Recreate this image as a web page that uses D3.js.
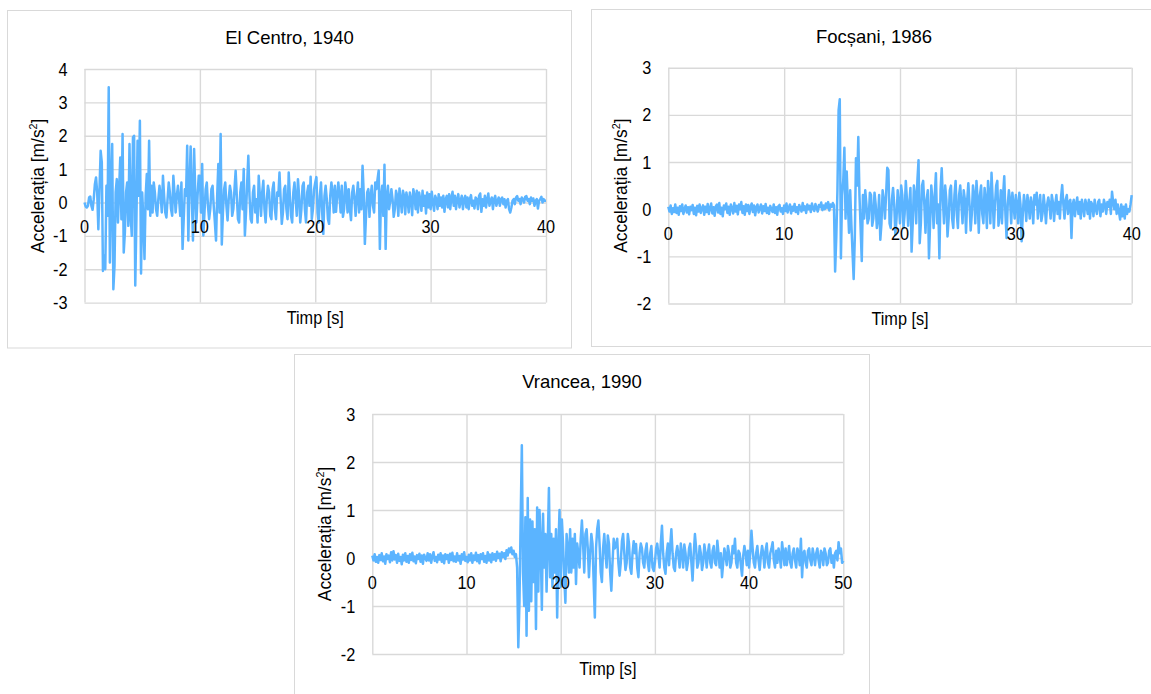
<!DOCTYPE html>
<html><head><meta charset="utf-8">
<script src="https://cdn.jsdelivr.net/npm/d3@7"></script>
<style>
body{margin:0;background:#fff;}
svg{display:block;}
text{font-family:"Liberation Sans",Arial,sans-serif;fill:#000;}
</style>
</head><body>
<svg id="chart" width="1151" height="694"></svg>
<script>
// ---------------- DATA ----------------
const chartTitles = ["El Centro, 1940", "Focșani, 1986", "Vrancea, 1990"];
const xAxisTitle = "Timp [s]";
const yAxisTitle = "Accelerația [m/s";

const xTicksElCentro = [0, 10, 20, 30, 40];
const yTicksElCentro = [-3, -2, -1, 0, 1, 2, 3, 4];
const xTicksFocsani = [0, 10, 20, 30, 40];
const yTicksFocsani = [-2, -1, 0, 1, 2, 3];
const xTicksVrancea = [0, 10, 20, 30, 40, 50];
const yTicksVrancea = [-2, -1, 0, 1, 2, 3];

// sample interval (s)
const dtElCentro = 0.1;
const dtFocsani = 0.1;
const dtVrancea = 0.125;

// acceleration [m/s2], one row per second
const accelElCentro = [
 0.0,-0.12,-0.15,-0.1,0.15,0.18,-0.1,-0.22,0.1,0.55,
 0.75,0.3,-0.8,0.4,1.55,1.2,-2.05,-1.6,-2.0,0.5,
 -0.4,3.45,-1.8,0.5,1.75,-2.6,-1.9,0.3,0.7,-0.6,
 0.4,1.35,-0.5,2.05,-1.5,-0.9,0.3,0.6,-0.7,1.75,
 -0.4,-1.0,1.95,2.0,-2.49,-0.5,1.85,0.2,2.45,-2.13,
 0.3,-0.5,-1.69,0.2,0.85,-0.2,1.85,-0.4,0.5,-0.3,
 0.6,0.3,-0.2,-0.4,0.1,0.5,0.2,-0.3,0.8,0.2,
 -0.3,-0.45,0.1,0.6,0.3,-0.2,-0.4,0.8,0.3,-0.3,
 0.2,0.5,0.1,-0.4,0.6,-1.39,-0.5,0.4,0.2,1.7,
 -1.14,0.5,1.68,0.2,-1.14,1.6,0.3,-0.6,0.2,0.8,
 0.8,-0.3,1.15,-0.99,-0.3,0.4,0.6,-0.1,-0.5,-0.2,
 0.4,0.5,-0.1,-0.6,-1.14,0.2,1.15,-0.3,2.05,-1.26,
 -0.3,0.4,0.6,-0.1,-0.54,0.1,0.5,0.3,-0.4,-0.2,
 0.4,0.95,0.2,-0.5,-0.6,0.3,0.6,-0.2,1.0,-0.99,
 -0.3,0.6,1.4,0.2,-0.5,-0.6,0.3,0.5,-0.3,0.1,
 -0.6,0.8,0.2,-0.4,0.3,0.65,-0.2,-0.6,0.1,0.5,
 0.3,-0.4,-0.5,0.4,0.6,-0.2,-0.5,0.3,0.2,0.9,
 0.1,-0.64,-0.3,0.4,0.5,-0.2,-0.5,0.9,0.2,-0.4,
 -0.6,0.3,0.6,0.1,-0.4,0.7,0.2,-0.6,-0.2,0.5,
 0.6,-0.2,-0.6,0.3,0.5,-0.1,0.77,-0.5,-0.2,0.4,
 0.6,0.76,-0.3,-0.6,0.2,0.6,-0.3,-0.94,0.2,0.5,
 0.1,-0.5,-0.64,0.2,0.6,0.3,-0.3,0.5,-0.28,0.2,
 0.6,0.2,-0.3,0.5,-0.43,-0.2,0.6,0.3,-0.3,0.4,
 -0.2,-0.53,0.3,0.5,0.1,-0.4,0.2,0.6,-0.3,0.4,
 -0.2,1.1,0.3,-1.24,-0.4,0.3,0.4,-0.43,0.2,0.5,
 -0.1,-0.3,0.6,0.4,0.7,0.96,-1.39,0.2,0.5,-0.4,
 1.13,-1.39,0.2,0.5,-0.2,0.05,0.4,0.1,-0.43,-0.2,
 0.35,0.2,-0.4,0.42,0.1,-0.3,0.35,0.2,-0.35,0.3,
 0.1,-0.3,0.3,0.1,-0.38,0.4,0.2,-0.2,0.35,-0.3,
 0.3,0.1,-0.25,0.35,-0.1,0.2,-0.33,0.3,-0.15,0.25,
 -0.2,0.32,0.0,-0.25,0.2,0.1,-0.2,0.25,-0.1,0.15,
 -0.15,0.2,-0.28,0.1,0.2,-0.15,0.25,-0.2,0.15,0.32,
 -0.1,0.2,-0.2,0.1,0.25,-0.15,0.05,0.2,-0.2,0.1,
 0.2,-0.15,0.15,-0.2,0.1,0.22,-0.1,0.05,-0.18,0.15,
 0.1,-0.2,0.2,0.27,-0.28,0.1,-0.1,0.2,-0.15,0.1,
 0.27,-0.1,0.05,0.15,-0.2,0.1,0.2,-0.1,0.05,0.15,
 -0.1,0.1,0.15,-0.05,0.1,-0.15,0.05,0.1,-0.2,-0.3,
 -0.15,0.05,0.1,-0.05,0.15,0.19,0.05,0.1,-0.05,0.15,
 0.1,0.0,0.17,0.19,0.05,0.1,-0.05,0.15,0.05,0.12,
 -0.1,0.05,0.1,-0.18,0.05,0.1,0.17,0.0,0.1,0.05,
 0.05
];

const accelFocsani = [
 0.05,-0.05,0.08,-0.1,0.02,-0.06,0.1,-0.08,0.03,-0.12,
 0.06,-0.04,0.1,-0.1,0.0,0.08,-0.07,0.04,-0.11,0.05,
 -0.02,0.09,-0.1,0.03,-0.13,0.07,-0.05,0.1,-0.08,0.02,
 0.08,-0.12,0.05,-0.06,0.11,-0.1,0.02,0.12,-0.09,0.04,
 -0.14,0.06,0.1,-0.07,0.13,-0.1,0.03,-0.15,0.08,0.0,
 0.12,-0.08,0.05,-0.12,0.1,0.02,-0.09,0.13,-0.05,0.07,
 -0.11,0.1,0.0,0.15,-0.08,0.06,-0.12,0.1,-0.04,0.09,
 -0.1,0.05,0.12,-0.06,0.08,-0.13,0.04,0.1,-0.07,0.02,
 0.1,-0.09,0.06,-0.04,0.11,-0.08,0.03,-0.1,0.07,0.0,
 -0.06,0.1,-0.08,0.04,-0.12,0.06,0.09,-0.05,0.02,-0.1,
 0.08,-0.04,0.12,-0.07,0.03,0.1,-0.09,0.05,-0.03,0.11,
 -0.06,0.04,-0.1,0.09,0.02,-0.05,0.13,-0.02,0.06,-0.08,
 0.1,0.0,0.07,-0.06,0.12,0.02,-0.04,0.11,0.03,-0.05,
 0.09,0.04,0.14,-0.02,0.08,0.0,0.12,0.03,0.15,-0.03,
 0.1,0.05,0.13,0.08,-1.32,-0.6,0.4,2.1,2.33,-1.04,
 0.3,0.6,1.3,-0.2,0.8,0.1,-0.5,0.4,-0.3,-0.9,
 -1.48,-0.6,1.08,0.5,1.53,0.3,-0.4,-1.1,0.3,-0.2,
 0.4,0.1,-0.3,-0.2,0.35,0.3,-0.35,-0.2,0.35,0.1,
 -0.4,-0.2,0.3,-0.65,-0.3,0.4,0.2,-0.2,0.3,0.88,
 0.83,-0.3,-0.4,0.2,0.45,0.1,-0.55,-0.2,0.4,0.1,
 -0.3,0.5,0.3,-0.4,-0.1,0.6,0.2,-0.35,0.1,0.45,
 -0.9,-0.3,0.5,0.3,-0.3,0.6,1.04,-0.72,-0.3,0.5,
 0.6,0.1,-0.5,0.2,0.4,-1.04,-0.3,0.5,0.2,-0.4,
 0.3,0.76,-0.3,0.1,-1.04,0.4,0.87,0.2,-0.3,0.5,
 0.2,-0.58,-0.2,0.4,0.5,-0.2,-0.4,0.3,0.6,-0.1,
 -0.4,0.3,0.5,0.1,-0.3,0.4,0.2,-0.5,0.2,0.55,
 0.1,-0.45,-0.1,0.5,0.3,-0.3,0.6,0.2,-0.5,0.3,
 0.5,-0.1,-0.3,0.45,0.2,-0.4,0.6,0.3,-0.3,0.77,
 0.2,-0.4,0.1,0.5,0.6,-0.35,-0.1,0.4,-0.3,0.3,
 0.7,-0.1,-0.61,0.1,0.4,0.2,-0.3,0.35,0.1,-0.2,
 0.3,0.1,-0.3,0.35,0.1,-0.68,-0.1,0.3,0.1,-0.25,
 0.3,0.1,-0.2,0.25,0.1,-0.3,0.3,0.1,0.35,-0.2,
 0.1,0.3,-0.25,-0.1,0.3,0.05,-0.3,0.1,0.25,0.1,
 -0.2,0.3,0.15,-0.25,0.1,0.3,-0.1,0.15,-0.2,0.25,
 0.51,0.1,-0.2,0.2,0.3,-0.1,0.15,0.2,-0.61,0.1,
 0.2,-0.15,0.1,0.25,-0.1,0.15,-0.2,0.2,0.05,-0.15,
 0.2,0.1,-0.1,0.2,-0.2,0.15,0.1,-0.15,0.2,0.0,
 -0.1,0.15,0.2,-0.15,0.1,-0.05,0.2,0.1,-0.1,0.15,
 0.05,0.2,-0.1,0.37,0.15,0.0,0.2,-0.1,0.1,-0.05,
 -0.22,0.1,-0.15,0.05,-0.2,0.1,-0.1,0.0,-0.05,0.1,
 0.3
];

const accelVrancea = [
 0.05,-0.05,0.08,-0.08,0.02,-0.1,0.06,-0.04,
 0.1,-0.07,0.03,-0.12,0.08,-0.02,0.05,-0.09,
 0.12,-0.05,0.14,-0.03,0.06,-0.1,0.09,-0.06,
 0.02,-0.13,0.07,-0.05,0.1,-0.08,0.04,-0.1,
 0.08,-0.04,0.11,-0.07,0.03,-0.11,0.06,-0.02,
 0.09,-0.08,0.05,-0.12,0.07,0.0,-0.06,0.1,
 -0.05,0.08,-0.1,0.04,0.12,-0.06,0.02,-0.09,
 0.07,-0.03,0.1,-0.08,0.05,-0.11,0.08,-0.02,
 0.06,-0.1,0.09,-0.04,0.11,-0.07,0.03,-0.08,
 0.1,-0.05,0.04,-0.12,0.08,-0.03,0.12,-0.06,
 0.02,-0.09,0.07,-0.05,0.1,-0.1,0.05,-0.04,
 0.11,-0.07,0.06,-0.11,0.08,-0.02,0.1,-0.08,
 0.04,-0.1,0.12,-0.05,0.07,-0.09,0.1,-0.03,
 0.08,-0.06,0.13,0.0,0.09,-0.07,0.12,0.02,
 0.1,-0.02,0.16,0.05,0.2,0.12,0.22,0.08,
 0.15,0.02,0.08,-0.2,-1.86,-0.9,0.8,2.35,
 -0.3,-1.0,0.85,-1.62,1.25,-1.1,0.8,-0.9,
 0.76,-0.5,0.6,-1.48,1.05,-0.7,1.0,0.3,
 -1.08,0.92,-0.2,0.5,-0.7,0.3,1.46,-0.4,
 0.5,-0.6,0.4,-0.3,0.6,-1.24,0.2,1.0,
 -0.6,0.8,0.3,-0.4,-0.93,0.5,0.2,-0.3,
 0.6,-0.3,0.4,-0.2,0.5,-0.54,0.3,0.1,
 -0.2,0.4,0.78,0.3,-0.3,0.5,0.6,0.2,
 -0.4,0.1,0.5,0.3,-0.5,-1.24,0.2,0.6,
 0.78,0.3,-0.3,-0.5,0.2,0.5,0.1,-0.2,
 0.47,0.3,-0.3,-0.68,-0.1,0.4,0.2,0.26,
 0.4,-0.1,-0.37,-0.1,0.35,0.5,0.1,-0.25,
 -0.1,0.5,0.3,-0.2,-0.33,0.1,0.35,0.1,
 0.29,-0.2,-0.4,0.1,0.3,0.2,-0.1,-0.2,
 0.15,0.3,-0.1,-0.27,0.1,0.25,-0.2,-0.27,
 -0.1,0.2,0.3,0.05,-0.2,0.3,0.67,0.1,
 -0.2,-0.33,0.1,0.3,-0.15,0.25,0.6,0.1,
 -0.2,-0.27,0.1,0.25,0.05,-0.2,0.3,0.1,
 -0.2,0.28,0.1,-0.25,-0.1,0.2,0.3,-0.1,
 -0.47,0.1,0.5,0.2,-0.2,-0.1,0.25,0.1,
 -0.25,-0.1,0.28,0.1,-0.2,0.1,0.28,-0.1,
 -0.2,0.15,0.25,-0.1,-0.15,0.36,0.1,-0.2,
 0.1,-0.4,-0.1,0.2,0.05,-0.15,0.25,0.1,
 -0.2,-0.1,0.25,0.1,0.4,-0.1,-0.2,0.15,
 0.1,-0.15,-0.37,0.05,0.25,0.1,-0.15,0.15,
 -0.2,0.1,0.57,0.2,-0.1,-0.2,0.1,0.25,
 -0.05,-0.25,0.05,0.25,0.1,-0.2,0.15,0.3,
 -0.1,-0.2,0.1,0.2,0.33,-0.05,-0.2,0.15,
 -0.1,0.2,0.05,-0.2,0.33,0.1,-0.15,0.2,
 -0.15,0.05,0.25,-0.1,-0.2,0.1,0.2,-0.05,
 -0.2,0.2,0.1,-0.15,0.4,-0.4,0.1,0.15,
 -0.1,-0.2,0.15,0.2,-0.05,-0.15,0.2,0.05,
 -0.15,0.1,0.2,-0.05,-0.2,0.15,0.1,-0.15,
 0.2,0.1,-0.15,-0.1,0.15,0.2,-0.1,0.05,
 -0.2,0.1,0.15,-0.05,0.33,0.1,0.2,-0.1,
 -0.06
];

// ---------------- LAYOUT ----------------
const panels = [
  {title: chartTitles[0], dt: dtElCentro, values: accelElCentro, xDomain: [0, 40], yDomain: [-3, 4],
   xTicks: xTicksElCentro, yTicks: yTicksElCentro,
   box: {x: 7.5, y: 10.5, w: 564, h: 337.5}, titleX: 289.5,
   plot: {x0: 84.5, x1: 546, yTop: 69, yBot: 302.6}},
  {title: chartTitles[1], dt: dtFocsani, values: accelFocsani, xDomain: [0, 40], yDomain: [-2, 3],
   xTicks: xTicksFocsani, yTicks: yTicksFocsani,
   box: {x: 591.5, y: 9.5, w: 570, h: 337}, titleX: 874,
   plot: {x0: 668.3, x1: 1131.7, yTop: 67.7, yBot: 303.5}},
  {title: chartTitles[2], dt: dtVrancea, values: accelVrancea, xDomain: [0, 50], yDomain: [-2, 3],
   xTicks: xTicksVrancea, yTicks: yTicksVrancea,
   box: {x: 294.5, y: 354.5, w: 575, h: 360}, titleX: 582,
   plot: {x0: 372.3, x1: 843.3, yTop: 414, yBot: 654}}
];

const LINE_COLOR = "#5bb4ff";
const GRID_COLOR = "#d9d9d9";
const FS = 18.5;
const SX = 0.88;
const SX_YLABEL = 0.94;

const svg = d3.select("#chart");
svg.append("rect").attr("width", 1151).attr("height", 694).attr("fill", "#fff");

panels.forEach(p => {
  const g = svg.append("g");
  g.append("rect")
    .attr("x", p.box.x).attr("y", p.box.y).attr("width", p.box.w).attr("height", p.box.h)
    .attr("fill", "#fff").attr("stroke", GRID_COLOR).attr("stroke-width", 1);

  const x = d3.scaleLinear().domain(p.xDomain).range([p.plot.x0, p.plot.x1]);
  const y = d3.scaleLinear().domain(p.yDomain).range([p.plot.yBot, p.plot.yTop]);

  // horizontal gridlines
  const gy = g.append("g").attr("transform", `translate(${p.plot.x0},0)`)
    .call(d3.axisLeft(y).tickValues(p.yTicks).tickSize(-(p.plot.x1 - p.plot.x0)).tickFormat(""));
  gy.select(".domain").remove();
  gy.selectAll("line").attr("stroke", GRID_COLOR).attr("stroke-width", 1.4);

  // vertical gridlines
  const gx = g.append("g").attr("transform", `translate(0,${p.plot.yBot})`)
    .call(d3.axisBottom(x).tickValues(p.xTicks).tickSize(-(p.plot.yBot - p.plot.yTop)).tickFormat(""));
  gx.select(".domain").remove();
  gx.selectAll("line").attr("stroke", GRID_COLOR).attr("stroke-width", 1.4);

  // series
  const line = d3.line().x((d, i) => x(i * p.dt)).y(d => y(d));
  g.append("path").datum(p.values)
    .attr("d", line).attr("fill", "none")
    .attr("stroke", LINE_COLOR).attr("stroke-width", 2.5)
    .attr("stroke-linejoin", "round");

  // y tick labels
  g.selectAll(".ytl").data(p.yTicks).join("text")
    .attr("transform", d => `translate(${p.plot.x0 - 17},${y(d) + 6.6}) scale(${SX},1)`)
    .attr("text-anchor", "end").attr("font-size", FS).text(d => d);

  // x tick labels (under the zero line)
  g.selectAll(".xtl").data(p.xTicks).join("text")
    .attr("transform", d => `translate(${x(d)},${y(0) + 30.5}) scale(${SX},1)`)
    .attr("text-anchor", "middle").attr("font-size", FS).text(d => d);

  // title
  g.append("text")
    .attr("x", p.titleX).attr("y", p.box.y + 33)
    .attr("text-anchor", "middle").attr("font-size", FS).text(p.title);

  // x axis title
  g.append("text")
    .attr("transform", `translate(${(p.plot.x0 + p.plot.x1) / 2},${p.plot.yBot + 21}) scale(${SX},1)`)
    .attr("text-anchor", "middle").attr("font-size", FS).text(xAxisTitle);

  // y axis title
  const yt = g.append("text")
    .attr("transform", `translate(${p.plot.x0 - 41},${(p.plot.yTop + p.plot.yBot) / 2}) rotate(-90) scale(${SX_YLABEL},1)`)
    .attr("text-anchor", "middle").attr("font-size", FS);
  yt.append("tspan").text(yAxisTitle);
  yt.append("tspan").attr("font-size", FS * 0.62).attr("dy", -7).text("2");
  yt.append("tspan").attr("dy", 7).text("]");
});
</script>
</body></html>
